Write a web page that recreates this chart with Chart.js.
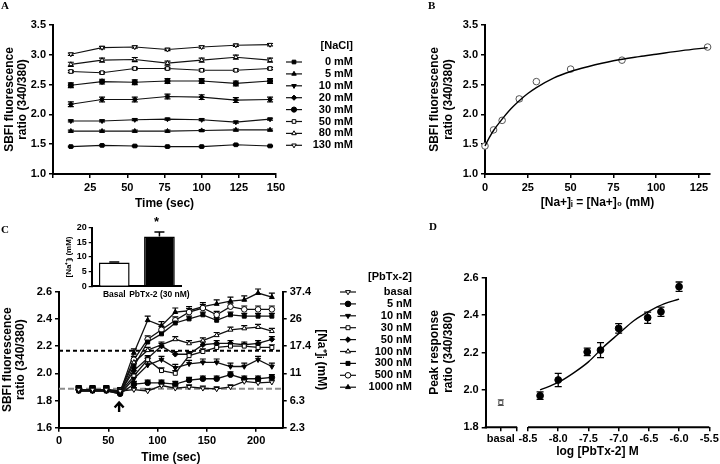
<!DOCTYPE html>
<html>
<head>
<meta charset="utf-8">
<script src="https://cdn.jsdelivr.net/npm/chart.js@4/dist/chart.umd.min.js"></script>
<style>
html, body { margin: 0; padding: 0; background: #fff; }
#wrap { position: relative; width: 720px; height: 464px; overflow: hidden; }
#wrap canvas { position: absolute; left: 0; top: 0; }
.lbl { position: absolute; font: bold 11px 'Liberation Serif', 'Times New Roman', serif; color: #000; line-height: 1; }
</style>
</head>
<body>
<div id="wrap">
  <canvas id="cA" width="720" height="464"></canvas>
  <canvas id="cB" width="720" height="464"></canvas>
  <canvas id="cC" width="720" height="464"></canvas>
  <canvas id="cInset" width="720" height="464"></canvas>
  <canvas id="cD" width="720" height="464"></canvas>
  <div class="lbl" style="left:1px;top:0px">A</div>
  <div class="lbl" style="left:428px;top:0px">B</div>
  <div class="lbl" style="left:1px;top:224px">C</div>
  <div class="lbl" style="left:429px;top:221px">D</div>
</div>
<script>
// ===============================
// DATA
// ===============================

// panel A : ratio over time for each [NaCl]
const aTimes = [12, 33, 55, 77, 100, 123, 146];
const aLabels = ['0 mM', '5 mM', '10 mM', '20 mM', '30 mM', '50 mM', '80 mM', '130 mM'];
const a0   = [1.46, 1.48, 1.47, 1.46, 1.46, 1.49, 1.47];
const a5   = [1.72, 1.72, 1.72, 1.72, 1.73, 1.74, 1.74];
const a10  = [1.89, 1.89, 1.91, 1.92, 1.91, 1.87, 1.92];
const a20  = [2.17, 2.25, 2.25, 2.30, 2.29, 2.24, 2.25];
const a30  = [2.49, 2.55, 2.54, 2.56, 2.56, 2.52, 2.56];
const a50  = [2.72, 2.70, 2.77, 2.77, 2.74, 2.74, 2.77];
const a80  = [2.84, 2.91, 2.92, 2.86, 2.91, 2.96, 2.91];
const a130 = [3.01, 3.12, 3.13, 3.09, 3.13, 3.16, 3.17];
const aErr = [0.01, 0.015, 0.015, 0.04, 0.04, 0.02, 0.035, 0.02];

// panel B : calibration
const bNa    = [0, 5, 10, 20, 30, 50, 80, 130];
const bRatio = [1.47, 1.74, 1.90, 2.26, 2.55, 2.76, 2.91, 3.13];
const bErr   = [0.02, 0.02, 0.02, 0.035, 0.02, 0.015, 0.015, 0.015];
const bFitX  = [0, 2.5, 5, 10, 15, 20, 25, 30, 40, 50, 60, 75, 90, 100, 115, 130];
const bFitY  = [1.47, 1.61, 1.73, 1.92, 2.09, 2.23, 2.35, 2.45, 2.61, 2.72, 2.80, 2.90, 2.97, 3.01, 3.07, 3.12];

// panel C : PbTx-2 time course
const cTimes  = [20, 34, 48, 62, 76, 90, 104, 118, 132, 146, 160, 174, 188, 202, 216];
const cLabels = ['basal', '5 nM', '10 nM', '30 nM', '50 nM', '100 nM', '300 nM', '500 nM', '1000 nM'];
const cBasal = [1.88, 1.88, 1.88, 1.87, 1.88, 1.87, 1.91, 1.89, 1.90, 1.89, 1.885, 1.90, 1.94, 1.93, 1.935];
const c5     = [1.88, 1.88, 1.88, 1.85, 1.92, 1.93, 1.93, 1.92, 1.95, 1.96, 1.96, 1.99, 1.96, 1.96, 1.97];
const c10    = [1.87, 1.87, 1.87, 1.85, 1.96, 2.06, 2.10, 2.04, 2.07, 2.08, 2.08, 2.05, 2.05, 2.10, 2.05];
const c30    = [1.88, 1.88, 1.88, 1.86, 1.98, 2.10, 2.02, 2.00, 2.13, 2.16, 2.19, 2.20, 2.20, 2.19, 2.19];
const c50    = [1.88, 1.88, 1.88, 1.86, 2.02, 2.11, 2.20, 2.14, 2.14, 2.21, 2.22, 2.22, 2.21, 2.22, 2.25];
const c100   = [1.88, 1.88, 1.88, 1.86, 2.08, 2.17, 2.21, 2.25, 2.22, 2.24, 2.28, 2.32, 2.33, 2.34, 2.31];
const c300   = [1.87, 1.87, 1.87, 1.85, 2.05, 2.23, 2.29, 2.37, 2.40, 2.43, 2.39, 2.43, 2.42, 2.42, 2.42];
const c500   = [1.88, 1.88, 1.88, 1.87, 2.10, 2.25, 2.32, 2.39, 2.45, 2.48, 2.43, 2.49, 2.47, 2.47, 2.47];
const c1000  = [1.88, 1.88, 1.88, 1.86, 2.15, 2.39, 2.35, 2.45, 2.46, 2.49, 2.51, 2.53, 2.54, 2.59, 2.56];
const cErr   = [0.015, 0.02, 0.025, 0.02, 0.02, 0.02, 0.02, 0.025, 0.03];
const cNaTicks = ['2.3', '6.3', '11', '17.4', '26', '37.4'];
const cBasalLine = 1.886;
const cHalfLine = 2.166;
const cArrowAt = 61;

// panel C inset
const insetCats = ['Basal', 'PbTx-2 (30 nM)'];
const insetNa   = [8.1, 17.0];
const insetErr  = [0.2, 1.5];

// panel D : concentration response
const dLogConc = [-8.3, -8.0, -7.52, -7.3, -7.0, -6.52, -6.3, -6.0];
const dPeak    = [1.969, 2.053, 2.203, 2.213, 2.329, 2.386, 2.418, 2.552];
const dErr     = [0.02, 0.035, 0.02, 0.04, 0.025, 0.03, 0.025, 0.025];
const dBasal = 1.932, dBasalErr = 0.015;
const dBasalPos = -8.95, dBreakPos = -8.68;
const dTicks   = [-8.5, -8.0, -7.5, -7.0, -6.5, -6.0, -5.5];
const dFitX    = [-8.3, -8.0, -7.75, -7.5, -7.25, -7.0, -6.75, -6.5, -6.25, -6.0];
const dFitY    = [2.00, 2.04, 2.09, 2.15, 2.23, 2.30, 2.37, 2.42, 2.46, 2.485];


// ===============================
// DEFAULTS / HELPERS
// ===============================
const FONT = "'Liberation Sans', Arial, Helvetica, sans-serif";
Chart.defaults.font.family = FONT;
Chart.defaults.font.weight = 'bold';
Chart.defaults.font.size = 11;
Chart.defaults.color = '#000';
Chart.defaults.animation = false;
Chart.defaults.responsive = false;
Chart.defaults.plugins.legend.display = false;
Chart.defaults.plugins.tooltip.enabled = false;

const W = 720, H = 464;

function pts(xs, ys){ return xs.map((x, i) => ({ x: x, y: ys[i] })); }

// padding so that the plot area lands on the wanted box
function area(left, top, right, bottom, yW, xH, rW){
  return { left: left - yW, top: top, right: W - right - (rW || 0), bottom: H - bottom - xH };
}

function axis(pos, min, max, step, size, title, fmt, extra){
  const vertical = (pos === 'left' || pos === 'right');
  const cfg = {
    type: 'linear', position: pos, min: min, max: max,
    ticks: {
      stepSize: step, padding: 3, color: '#000', maxRotation: 0, minRotation: 0,
      autoSkip: false, includeBounds: false, font: { size: 11, weight: 'bold' },
      callback: fmt
    },
    grid: { display: true, drawOnChartArea: false, drawTicks: true, tickLength: 4, color: '#000', lineWidth: 1.5 },
    border: { display: true, color: '#000', width: 2 },
    title: title ? { display: true, text: title, padding: 0, color: '#000',
                     font: { size: 12, weight: 'bold', lineHeight: 1.1 } } : { display: false },
    afterFit: s => { if (vertical) s.width = size; else s.height = size; }
  };
  return Object.assign(cfg, extra || {});
}

function series(label, data, style, filled, rot, err, radius){
  return {
    label: label, data: data, borderColor: '#111', borderWidth: 1.1,
    pointStyle: style, pointRotation: rot || 0, pointRadius: radius || 2.6,
    pointBackgroundColor: filled ? '#000' : '#fff', pointBorderColor: '#000',
    pointBorderWidth: 1, tension: 0, fill: false, clip: false, err: err
  };
}

// error bars through the chart scales
function drawErrors(chart){
  const ctx = chart.ctx;
  chart.data.datasets.forEach((ds, di) => {
    if (ds.err === undefined) return;
    const meta = chart.getDatasetMeta(di);
    const ys = chart.scales[meta.yAxisID];
    const cap = ds.errCap || 3;
    ctx.save();
    ctx.strokeStyle = ds.errColor || '#000';
    ctx.lineWidth = ds.errWidth || 1.2;
    ds.data.forEach((p, i) => {
      const e = Array.isArray(ds.err) ? ds.err[i] : ds.err;
      const v = (typeof p === 'object') ? p.y : p;
      const el = meta.data[i];
      if (!el) return;
      const x = el.x;
      const yHi = ys.getPixelForValue(v + e);
      const yLo = ds.errUpOnly ? ys.getPixelForValue(v) : ys.getPixelForValue(v - e);
      ctx.beginPath();
      ctx.moveTo(x, yHi); ctx.lineTo(x, yLo);
      ctx.moveTo(x - cap, yHi); ctx.lineTo(x + cap, yHi);
      if (!ds.errUpOnly){ ctx.moveTo(x - cap, yLo); ctx.lineTo(x + cap, yLo); }
      ctx.stroke();
    });
    ctx.restore();
  });
}
const errorBars = { id: 'errorBars', beforeDatasetsDraw: drawErrors };
const errorBarsOnTop = { id: 'errorBarsOnTop', afterDatasetsDraw: drawErrors };

const drawPt = (Chart.helpers && Chart.helpers.drawPoint) ? Chart.helpers.drawPoint : function(ctx, o, x, y){
  ctx.beginPath(); ctx.arc(x, y, o.radius, 0, Math.PI * 2); ctx.fill(); ctx.stroke();
};

// legend on the right side, labels right aligned
function sideLegend(o){
  return {
    id: 'sideLegend',
    afterDraw(chart){
      const ctx = chart.ctx;
      ctx.save();
      ctx.font = 'bold 11px ' + FONT;
      ctx.textAlign = 'right';
      ctx.textBaseline = 'middle';
      ctx.fillStyle = '#000';
      ctx.fillText(o.title, o.textRight, o.titleY);
      chart.data.datasets.forEach((ds, i) => {
        if (!ds.label) return;
        const y = o.y0 + i * o.dy;
        ctx.strokeStyle = '#111';
        ctx.lineWidth = 1.2;
        ctx.beginPath(); ctx.moveTo(o.x1, y); ctx.lineTo(o.x2, y); ctx.stroke();
        ctx.fillStyle = ds.pointBackgroundColor;
        ctx.strokeStyle = '#000';
        ctx.lineWidth = 1;
        drawPt(ctx, { pointStyle: ds.pointStyle, radius: ds.pointRadius, rotation: ds.pointRotation, borderWidth: 1 },
               (o.x1 + o.x2) / 2, y);
        ctx.fillStyle = '#000';
        ctx.fillText(ds.label, o.textRight, y);
      });
      ctx.restore();
    }
  };
}


// ===============================
// PANEL A
// ===============================
const aData = [a0, a5, a10, a20, a30, a50, a80, a130];
const aStyle = [['rect', 1, 0], ['triangle', 1, 0], ['triangle', 1, 180], ['rectRot', 1, 0],
                ['circle', 1, 0], ['rect', 0, 0], ['triangle', 0, 0], ['triangle', 0, 180]];
new Chart(document.getElementById('cA'), {
  type: 'line',
  data: {
    datasets: aData.map((d, i) => series(aLabels[i], pts(aTimes, d), aStyle[i][0], aStyle[i][1], aStyle[i][2], aErr[i]))
  },
  options: {
    layout: { autoPadding: false, padding: area(53, 25, 276, 174, 50, 36) },
    scales: {
      x: axis('bottom', 0, 150, 25, 36, 'Time (sec)', v => v === 0 ? '' : v),
      y: axis('left', 1.0, 3.5, 0.5, 50, ['SBFI fluorescence', 'ratio (340/380)'], v => v.toFixed(1))
    }
  },
  plugins: [errorBars, sideLegend({ title: '[NaCl]', titleY: 46, textRight: 353, x1: 286, x2: 302, y0: 62, dy: 11.9 })]
});


// ===============================
// PANEL B
// ===============================
new Chart(document.getElementById('cB'), {
  type: 'line',
  data: {
    datasets: [
      { data: pts(bFitX, bFitY), borderColor: '#000', borderWidth: 1.4, pointRadius: 0,
        cubicInterpolationMode: 'monotone', fill: false, clip: false },
      { data: pts(bNa, bRatio), showLine: false, pointStyle: 'circle', pointRadius: 3.3,
        pointBackgroundColor: '#fff', pointBorderColor: '#555', pointBorderWidth: 1,
        clip: false, err: bErr, errColor: '#555', errWidth: 1, errCap: 3 }
    ]
  },
  options: {
    layout: { autoPadding: false, padding: area(485, 25, 710, 174, 56.6, 35.3) },
    scales: {
      x: axis('bottom', 0, 131.4, 25, 35.3, '[Na+]\u1D62 = [Na+]\u2080 (mM)', v => v),
      y: axis('left', 1.0, 3.5, 0.5, 56.6, ['SBFI fluorescence', 'ratio (340/380)'], v => v.toFixed(1))
    }
  },
  plugins: [errorBars]
});


// ===============================
// PANEL C
// ===============================
const cData = [cBasal, c5, c10, c30, c50, c100, c300, c500, c1000];
const cStyle = [['triangle', 0, 180], ['circle', 1, 0], ['triangle', 1, 180], ['rect', 0, 0], ['rectRot', 1, 0],
                ['triangle', 0, 0], ['rect', 1, 0], ['circle', 0, 0], ['triangle', 1, 0]];

const cRefs = {
  id: 'cRefs',
  beforeDatasetsDraw(chart){
    const { ctx, chartArea: a, scales } = chart;
    const y = scales.y;
    ctx.save();
    ctx.lineWidth = 2;
    ctx.strokeStyle = '#000';
    ctx.setLineDash([4, 3]);
    let py = y.getPixelForValue(cHalfLine);
    ctx.beginPath(); ctx.moveTo(a.left, py); ctx.lineTo(a.right, py); ctx.stroke();
    ctx.strokeStyle = '#8c8c8c';
    ctx.setLineDash([6, 3]);
    py = y.getPixelForValue(cBasalLine);
    ctx.beginPath(); ctx.moveTo(a.left, py); ctx.lineTo(a.right, py); ctx.stroke();
    ctx.restore();
  },
  afterDraw(chart){
    const { ctx, scales } = chart;
    const x = scales.x.getPixelForValue(cArrowAt);
    const yTop = scales.y.getPixelForValue(1.785);
    const yBot = scales.y.getPixelForValue(1.715);
    ctx.save();
    ctx.strokeStyle = '#000';
    ctx.lineWidth = 2.4;
    ctx.beginPath();
    ctx.moveTo(x, yBot); ctx.lineTo(x, yTop + 1);
    ctx.moveTo(x - 4.5, yTop + 5); ctx.lineTo(x, yTop); ctx.lineTo(x + 4.5, yTop + 5);
    ctx.stroke();
    ctx.restore();
  }
};

new Chart(document.getElementById('cC'), {
  type: 'line',
  data: {
    datasets: cData.map((d, i) => {
      const s = series(cLabels[i], pts(cTimes, d), cStyle[i][0], cStyle[i][1], cStyle[i][2], cErr[i], 2.8);
      s.borderWidth = 1.3;
      s.errUpOnly = true;
      return s;
    })
  },
  options: {
    layout: { autoPadding: false, padding: area(59, 291.7, 282.7, 427.7, 58.3, 36.2, 45.6) },
    scales: {
      x: axis('bottom', 0, 227, 50, 36.2, 'Time (sec)', v => v),
      y: axis('left', 1.6, 2.6, 0.2, 58.3, ['SBFI fluorescence', 'ratio (340/380)'], v => v.toFixed(1)),
      yNa: axis('right', 1.6, 2.6, 0.2, 45.6, '[Na\u207A]\u1D62 (mM)', (v, i) => cNaTicks[i])
    }
  },
  plugins: [cRefs, errorBars, sideLegend({ title: '[PbTx-2]', titleY: 277, textRight: 412, x1: 340, x2: 356, y0: 292, dy: 11.9 })]
});


// ===============================
// PANEL C INSET
// ===============================
const star = {
  id: 'star',
  afterDraw(chart){
    const { ctx, scales } = chart;
    const el = chart.getDatasetMeta(0).data[1];
    const y = scales.y.getPixelForValue(insetNa[1] + insetErr[1]);
    ctx.save();
    ctx.font = 'bold 13px ' + FONT;
    ctx.textAlign = 'center';
    ctx.textBaseline = 'middle';
    ctx.fillStyle = '#000';
    ctx.fillText('*', el.x - 3, y - 10);
    ctx.restore();
  }
};

new Chart(document.getElementById('cInset'), {
  type: 'bar',
  data: {
    labels: insetCats,
    datasets: [{
      data: insetNa, backgroundColor: ['#fff', '#000'], borderColor: '#000', borderWidth: 1.5,
      barPercentage: 0.68, categoryPercentage: 1.0,
      err: insetErr, errUpOnly: true, errCap: 5, errWidth: 1.5
    }]
  },
  options: {
    layout: { autoPadding: false, padding: area(91.7, 227.7, 182, 286.3, 28.2, 20) },
    scales: {
      x: {
        type: 'category', position: 'bottom',
        grid: { display: false, drawTicks: false },
        border: { display: true, color: '#000', width: 2 },
        ticks: { padding: 3, maxRotation: 0, minRotation: 0, autoSkip: false, color: '#000', font: { size: 8.5, weight: 'bold' } },
        afterFit: s => { s.height = 20; }
      },
      y: {
        type: 'linear', position: 'left', min: 0, max: 20,
        ticks: { stepSize: 5, padding: 2, color: '#000', font: { size: 9, weight: 'bold' } },
        grid: { display: true, drawOnChartArea: false, drawTicks: true, tickLength: 3, color: '#000', lineWidth: 1.2 },
        border: { display: true, color: '#000', width: 2 },
        title: { display: true, text: '[Na\u207A]\u1D62 (mM)', padding: 0, color: '#000', font: { size: 8, weight: 'bold' } },
        afterFit: s => { s.width = 28.2; }
      }
    }
  },
  plugins: [errorBarsOnTop, star]
});


// ===============================
// PANEL D
// ===============================
const dBroken = {
  id: 'dBroken',
  afterDraw(chart){
    const { ctx, chartArea: a, scales } = chart;
    const xb = scales.x.getPixelForValue(dBreakPos);
    const xs = scales.x.getPixelForValue(dTicks[0]);
    ctx.save();
    ctx.strokeStyle = '#000';
    ctx.lineWidth = 2;
    ctx.beginPath();
    ctx.moveTo(a.left - 1, a.bottom); ctx.lineTo(xb, a.bottom);
    ctx.moveTo(xs, a.bottom); ctx.lineTo(a.right, a.bottom);
    ctx.stroke();
    ctx.restore();
  }
};

const dX = axis('bottom', -9.2, -5.5, 0.5, 31.3, 'log [PbTx-2] M',
  v => v === dBasalPos ? 'basal' : (v === dBreakPos ? '' : v.toFixed(1)));
dX.border = { display: false };
dX.ticks.padding = 1;
dX.afterBuildTicks = s => { s.ticks = [dBasalPos, dBreakPos].concat(dTicks).map(v => ({ value: v })); };

new Chart(document.getElementById('cD'), {
  type: 'line',
  data: {
    datasets: [
      { data: pts(dFitX, dFitY), borderColor: '#000', borderWidth: 1.4, pointRadius: 0,
        cubicInterpolationMode: 'monotone', fill: false, clip: false },
      { data: pts(dLogConc, dPeak), showLine: false, pointStyle: 'circle', pointRadius: 3.4,
        pointBackgroundColor: '#000', pointBorderColor: '#000', clip: false,
        err: dErr, errCap: 3.5, errWidth: 1.3 },
      { data: [{ x: dBasalPos, y: dBasal }], showLine: false, pointStyle: 'rect', pointRadius: 2.8,
        pointBackgroundColor: '#fff', pointBorderColor: '#444', pointBorderWidth: 1, clip: false,
        err: [dBasalErr], errCap: 3, errColor: '#444', errWidth: 1 }
    ]
  },
  options: {
    layout: { autoPadding: false, padding: area(485.7, 277.7, 709.3, 427.3, 57.3, 31.3) },
    scales: {
      x: dX,
      y: axis('left', 1.8, 2.6, 0.2, 57.3, ['Peak response', 'ratio (340/380)'], v => v.toFixed(1))
    }
  },
  plugins: [errorBars, dBroken]
});
</script>
</body>
</html>
